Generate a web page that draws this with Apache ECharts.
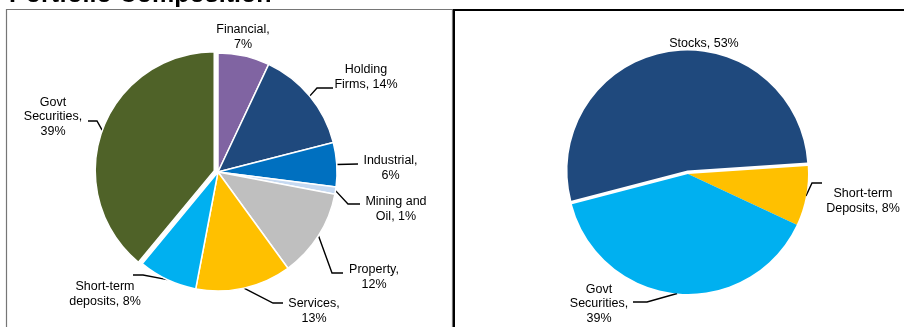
<!DOCTYPE html>
<html>
<head>
<meta charset="utf-8">
<script src="https://cdn.jsdelivr.net/npm/echarts@6/dist/echarts.min.js"></script>
<style>
  html, body { margin: 0; padding: 0; background: #ffffff; }
  #chart { width: 904px; height: 327px; }
</style>
</head>
<body>
<div id="chart"></div>
<script>
// Sector breakdown of the stock holdings plus cash and bonds
const sectorNames = ['Financial', 'Holding\nFirms', 'Industrial', 'Mining and\nOil', 'Property', 'Services', 'Short-term\ndeposits', 'Govt\nSecurities'];
const sectorShares = [7, 14, 6, 1, 12, 13, 8, 39];
const sectorSep = ['\n', ' ', '\n', ' ', '\n', '\n', ' ', ',\n'];

// Asset class split
const assetNames = ['Stocks', 'Short-term\nDeposits', 'Govt\nSecurities'];
const assetShares = [53, 8, 39];
const assetSep = [' ', ' ', '\n'];

const sectorColors = ['#8064A2', '#1F497D', '#0070C0', '#C6D9F1', '#BFBFBF', '#FFC000', '#00B0F0', '#4F6228'];
const assetColors = ['#1F497D', '#FFC000', '#00B0F0'];

const FONT = '"Liberation Sans", Arial, sans-serif';

// Pie geometry (start angle in degrees, counter-clockwise from 3 o'clock)
const LEFT = { cx: 218, cy: 172, r: 119, start: 90, explodeIdx: 7, explode: 4, border: 1.5 };
const RIGHT = { cx: 688, cy: 174, r: 120, start: 194.6, explodeIdx: 0, explode: 3.5, border: 0 };

// Label anchors and leader bends (null: label sits without a leader)
const LEFT_LABELS = [
  { at: [243, 37], bend: null },
  { at: [366, 77], bend: [[317, 88], [333, 88]] },
  { at: [390.5, 168], bend: [[358, 164]] },
  { at: [396, 209], bend: [[348, 204], [360, 204]] },
  { at: [374, 277], bend: [[332, 273], [343, 273]] },
  { at: [314, 311], bend: [[273, 303], [283, 303]] },
  { at: [105, 294], bend: [[143, 275], [133, 275]] },
  { at: [53, 117], bend: [[97, 121], [88, 121]] }
];
const RIGHT_LABELS = [
  { at: [704, 44], bend: null },
  { at: [863, 201], bend: [[812, 183], [822, 183]] },
  { at: [599, 304], bend: [[647, 302], [633, 302]] }
];

function midAngle(geo, values, i) {
  const total = values.reduce((a, b) => a + b, 0);
  let cum = 0;
  for (let k = 0; k < i; k++) cum += values[k];
  return (geo.start - 360 * (cum + values[i] / 2) / total) * Math.PI / 180;
}

// Offset that pulls slice i away from the centre
function explodeShift(geo, values, i) {
  if (i !== geo.explodeIdx) return [0, 0];
  const a = midAngle(geo, values, i);
  return [geo.explode * Math.cos(a), -geo.explode * Math.sin(a)];
}

// Point on the outer edge at the middle of slice i
function edgePoint(geo, values, i) {
  const a = midAngle(geo, values, i);
  const s = explodeShift(geo, values, i);
  return [geo.cx + geo.r * Math.cos(a) + s[0], geo.cy - geo.r * Math.sin(a) + s[1]];
}

function makeLayout(geo, values, labels) {
  return function (params) {
    const spec = labels[params.dataIndex];
    const out = { x: spec.at[0], y: spec.at[1], align: 'center', verticalAlign: 'middle' };
    if (spec.bend) {
      out.labelLinePoints = [edgePoint(geo, values, params.dataIndex)].concat(spec.bend);
    }
    return out;
  };
}

function labelText(names, values, seps, i) {
  return (seps[i].startsWith(',') ? names[i] + seps[i] : names[i] + ',' + seps[i]) + values[i] + '%';
}

const labelStyle = {
  show: true,
  position: 'outside',
  color: '#000',
  fontFamily: FONT,
  fontSize: 12.5,
  lineHeight: 14.5,
  align: 'center'
};
const lineStyle = { show: true, lineStyle: { color: '#000', width: 1.4 } };

// One pie drawn as two layers: the pulled-out slice, and everything else
function pieLayer(geo, names, values, colors, seps, labels, pulled) {
  const shift = pulled ? explodeShift(geo, values, geo.explodeIdx) : [0, 0];
  return {
    type: 'pie',
    center: [geo.cx + shift[0], geo.cy + shift[1]],
    radius: geo.r,
    startAngle: geo.start,
    clockwise: true,
    silent: true,
    avoidLabelOverlap: false,
    itemStyle: { borderColor: '#ffffff', borderWidth: geo.border },
    label: labelStyle,
    labelLine: lineStyle,
    labelLayout: makeLayout(geo, values, labels),
    emphasis: { disabled: true },
    data: names.map((n, i) => {
      const on = (i === geo.explodeIdx) === pulled;
      return {
        name: n,
        value: values[i],
        itemStyle: on ? { color: colors[i] } : { color: 'rgba(0,0,0,0)', borderWidth: 0 },
        labelLine: { show: on && !!labels[i].bend },
        label: { show: on, formatter: labelText(names, values, seps, i) }
      };
    })
  };
}

const chart = echarts.init(document.getElementById('chart'), null, { renderer: 'canvas' });
chart.setOption({
  backgroundColor: '#ffffff',
  animation: false,
  graphic: [
    {
      type: 'rect',
      shape: { x: 6.5, y: 9.5, width: 446, height: 340 },
      style: { fill: 'none', stroke: '#767676', lineWidth: 1.2 },
      z: 1
    },
    {
      type: 'rect',
      shape: { x: 454, y: 10, width: 470, height: 340 },
      style: { fill: 'none', stroke: '#000', lineWidth: 2 },
      z: 1
    },
    {
      type: 'text',
      x: 9,
      y: -5,
      style: {
        text: 'Portfolio Composition',
        font: 'bold 25px ' + FONT,
        fill: '#000',
        verticalAlign: 'middle'
      },
      z: 2
    }
  ],
  series: [
    pieLayer(LEFT, sectorNames, sectorShares, sectorColors, sectorSep, LEFT_LABELS, true),
    pieLayer(LEFT, sectorNames, sectorShares, sectorColors, sectorSep, LEFT_LABELS, false),
    pieLayer(RIGHT, assetNames, assetShares, assetColors, assetSep, RIGHT_LABELS, true),
    pieLayer(RIGHT, assetNames, assetShares, assetColors, assetSep, RIGHT_LABELS, false)
  ]
});
</script>
</body>
</html>
